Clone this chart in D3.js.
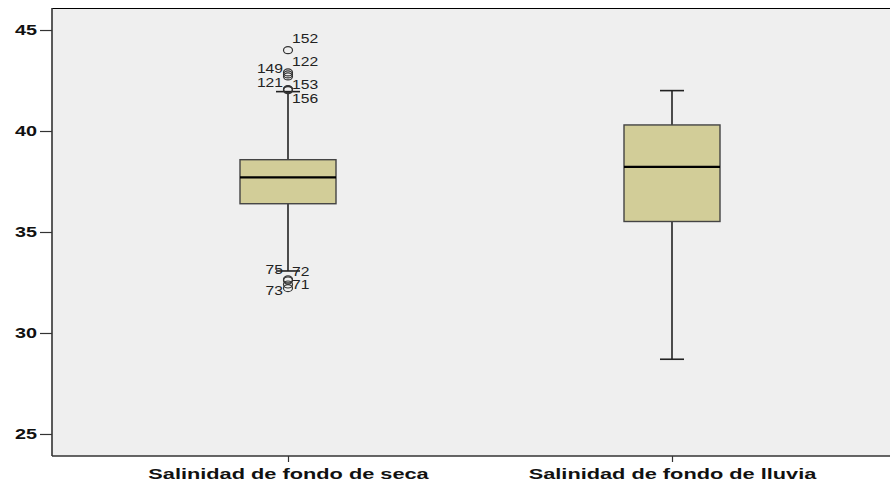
<!DOCTYPE html>
<html>
<head>
<meta charset="utf-8">
<script src="https://cdn.jsdelivr.net/npm/d3@7"></script>
<style>
  html, body { margin: 0; padding: 0; background: #ffffff; }
  svg { display: block; }
  text { font-family: "Liberation Sans", Arial, sans-serif; }
</style>
</head>
<body>
<svg id="chart" width="890" height="483"></svg>
<script>
// ---- data ----
const categories = ["Salinidad de fondo de seca", "Salinidad de fondo de lluvia"];
const whiskerLow  = [33.07, 28.70];
const q1          = [36.40, 35.52];
const median      = [37.70, 38.22];
const q3          = [38.58, 40.30];
const whiskerHigh = [41.95, 42.00];
// outliers of the first series
const outlierIds    = ["152", "122", "149", "", "121", "153", "156", "75", "72", "71", "73"];
const outlierValues = [44.00, 42.90, 42.80, 42.70, 42.07, 42.05, 42.02, 32.65, 32.60, 32.40, 32.22];
const outlierSide   = ["r", "r", "l", "l", "l", "r", "r", "l", "r", "r", "l"];
const labelShift    = [-12, -11, -6, 0, -7, -5, 8, -10, -9, 0, 2];
const yTicks = [25, 30, 35, 40, 45];

// ---- layout ----
const svg = d3.select("#chart");
const plot = { left: 52, right: 890, top: 8, bottom: 456 };

const y = d3.scaleLinear().domain([23.91, 46.09]).range([plot.bottom, plot.top]);
const x = d3.scalePoint().domain(categories).range([96, 864]).padding(0.5);
const boxW = 96;
const FONT = "'Liberation Sans', Arial, sans-serif";

function stretch(sel, factor) {
  sel.each(function () {
    const len = this.getComputedTextLength();
    d3.select(this).attr("textLength", len * factor).attr("lengthAdjust", "spacingAndGlyphs");
  });
}

// plot background
svg.append("rect")
  .attr("x", plot.left).attr("y", plot.top)
  .attr("width", plot.right - plot.left).attr("height", plot.bottom - plot.top)
  .attr("fill", "#efefef");

// top frame line
svg.append("line").attr("x1", plot.left).attr("x2", plot.right).attr("y1", plot.top + 0.5).attr("y2", plot.top + 0.5)
  .attr("stroke", "#000").attr("stroke-width", 1.2);

// y axis
const yAxis = d3.axisLeft(y).tickValues(yTicks).tickSize(12).tickPadding(3).tickFormat(d3.format("d"));
const gy = svg.append("g").attr("transform", `translate(${plot.left},0)`).call(yAxis);
gy.select(".domain").attr("stroke", "#333").attr("stroke-width", 1.6)
  .attr("d", `M0,${plot.top}V${plot.bottom}`);
gy.selectAll(".tick line").attr("stroke", "#333").attr("stroke-width", 1.2);
gy.selectAll(".tick text").attr("font-size", 15).attr("font-weight", "bold").attr("fill", "#111")
  .attr("font-family", FONT).call(stretch, 1.32);

// x axis
const xAxis = d3.axisBottom(x).tickSize(6).tickPadding(6);
const gx = svg.append("g").attr("transform", `translate(0,${plot.bottom})`).call(xAxis);
gx.select(".domain").attr("stroke", "#333").attr("stroke-width", 1.6)
  .attr("d", `M${plot.left},0H${plot.right}`);
gx.selectAll(".tick line").attr("stroke", "#333").attr("stroke-width", 1.2);
gx.selectAll(".tick text").attr("font-size", 15).attr("font-weight", "bold").attr("fill", "#111")
  .attr("font-family", FONT).call(stretch, 1.45);

// boxes
const stats = categories.map((c, i) => ({
  c, lo: whiskerLow[i], q1: q1[i], med: median[i], q3: q3[i], hi: whiskerHigh[i]
}));
const g = svg.append("g");
stats.forEach(s => {
  const cx = x(s.c);
  g.append("line").attr("x1", cx).attr("x2", cx).attr("y1", y(s.hi)).attr("y2", y(s.lo))
    .attr("stroke", "#222").attr("stroke-width", 1.6);
  [s.hi, s.lo].forEach(v => {
    g.append("line").attr("x1", cx - 12).attr("x2", cx + 12).attr("y1", y(v)).attr("y2", y(v))
      .attr("stroke", "#222").attr("stroke-width", 1.6);
  });
  g.append("rect").attr("x", cx - boxW / 2).attr("y", y(s.q3))
    .attr("width", boxW).attr("height", y(s.q1) - y(s.q3))
    .attr("fill", "#d2cd98").attr("stroke", "#444").attr("stroke-width", 1.4);
  g.append("line").attr("x1", cx - boxW / 2).attr("x2", cx + boxW / 2)
    .attr("y1", y(s.med)).attr("y2", y(s.med))
    .attr("stroke", "#000").attr("stroke-width", 2.2);
});

// outliers (first series)
const cx0 = x(categories[0]);
outlierValues.forEach((v, i) => {
  g.append("ellipse").attr("cx", cx0).attr("cy", y(v)).attr("rx", 4.5).attr("ry", 3.5)
    .attr("fill", "none").attr("stroke", "#333").attr("stroke-width", 1.2);
});
outlierValues.forEach((v, i) => {
  if (!outlierIds[i]) return;
  const right = outlierSide[i] === "r";
  g.append("text")
    .attr("x", right ? cx0 + 4 : cx0 - 5)
    .attr("y", y(v) + labelShift[i])
    .attr("dy", "0.35em")
    .attr("text-anchor", right ? "start" : "end")
    .attr("font-size", 12.5).attr("fill", "#222")
    .text(outlierIds[i])
    .call(stretch, 1.25);
});
</script>
</body>
</html>
